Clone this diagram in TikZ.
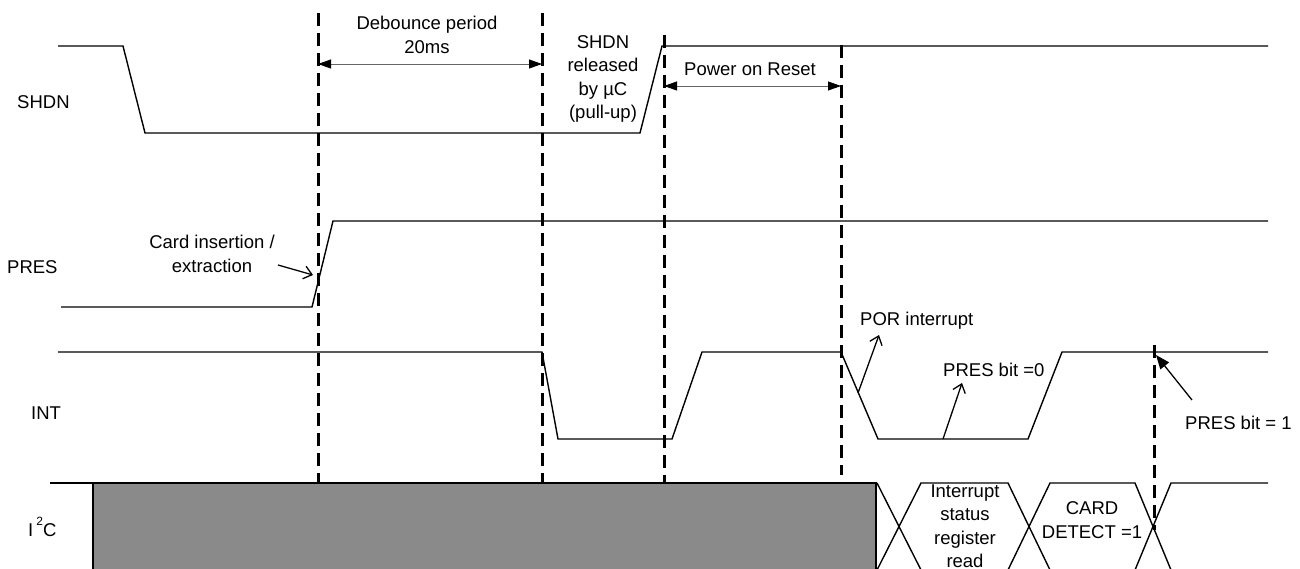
\documentclass[tikz,border=0pt]{standalone}
\usepackage{fontspec}
\setmainfont{Liberation Sans}
\usetikzlibrary{arrows.meta}
\definecolor{busgray}{RGB}{138,138,138}
\begin{document}
\begin{tikzpicture}[x=1pt,y=-1pt,
  sig/.style={line width=1.4pt, line join=miter},
  vdash/.style={line width=3pt, dash pattern=on 13pt off 7pt},
  dim/.style={line width=0.8pt, draw=black!60, {Triangle[length=13pt,width=9pt,black]}-{Triangle[length=13pt,width=9pt,black]}},
  lbl/.style={font=\fontsize{18.5}{23.5}\selectfont, inner sep=0pt, align=center},
  ann/.style={line width=1.3pt, -{Straight Barb[length=8pt,width=13pt]}},
  annf/.style={line width=1.3pt, -{Triangle[length=14pt,width=11pt]}}]
\useasboundingbox (0,0) rectangle (1300,569);

% I2C bus
\filldraw[sig, fill=busgray, draw=black] (93,570) -- (93,483) -- (876,483) -- (876,570);
\draw[sig] (50,483) -- (93,483);
\draw[sig] (877,570) -- (921,483) -- (1008,483) -- (1050,570) -- (1135,570) -- (1171,483) -- (1268,483);
\draw[sig] (877,483) -- (921,570) -- (1008,570) -- (1050,483) -- (1135,483) -- (1171,570) -- (1268,570);

% signals
\draw[sig] (58,46) -- (123,46) -- (145,133) -- (640,133) -- (662,46) -- (1268,46);
\draw[sig] (61,307) -- (312,307) -- (333,221) -- (1268,221);
\draw[sig] (58,352) -- (542,352) -- (558,439) -- (672,439) -- (702,352) -- (841,352)
  -- (878,439) -- (1028,439) -- (1062,352) -- (1268,352);

% dashed markers
\draw[vdash] (318,13) -- (318,483);
\draw[vdash] (542,13) -- (542,483);
\draw[vdash] (664,35) -- (664,483);
\draw[vdash] (841,45) -- (841,475);
\draw[vdash] (1154,345) -- (1154,530);

% dimension arrows
\coordinate (d1) at (318,64);
\coordinate (d2) at (542,64);
\draw[dim] (d1) -- (d2);
\coordinate (p1) at (664,86);
\coordinate (p2) at (841,86);
\draw[dim] (p1) -- (p2);

% signal names
\node[lbl, anchor=west] (lshdn) at (17,102) {SHDN};
\node[lbl, anchor=west] (lpres) at (7,267) {PRES};
\node[lbl, anchor=west] (lint) at (31,413) {INT};
\node[lbl, anchor=west] (li2c) at (28,527) {I\,\raisebox{0.62em}{\fontsize{12}{12}\selectfont 2}C};

% texts
\node[lbl] (tdeb) at (427,35) {Debounce period\\20ms};
\node[lbl] (trel) at (603,79) {SHDN\\released\\by µC\\(pull-up)};
\node[lbl] (tpor) at (750,69) {Power on Reset};
\node[lbl] (tcard) at (212,254) {Card insertion /\\extraction};
\node[lbl, anchor=west] (tporint) at (860,321) {POR interrupt};
\node[lbl, anchor=west] (tb0) at (943,370) {PRES bit =0};
\node[lbl, anchor=west] (tb1) at (1185,423) {PRES bit = 1};
\node[lbl] (tisr) at (965,526) {Interrupt\\status\\register\\read};
\node[lbl] (tcd) at (1092,520) {CARD\\DETECT =1};

% annotation arrows
\coordinate (ca) at (278,265);
\coordinate (cb) at (313,275);
\draw[ann] (ca) -- (cb);
\coordinate (pa) at (858,393);
\coordinate (pb) at (879,335);
\draw[ann] (pa) -- (pb);
\coordinate (ba) at (943,439);
\coordinate (bb) at (962,383);
\draw[ann] (ba) -- (bb);
\coordinate (ea) at (1192,400);
\coordinate (eb) at (1156,355);
\draw[annf] (ea) -- (eb);
\end{tikzpicture}
\end{document}
